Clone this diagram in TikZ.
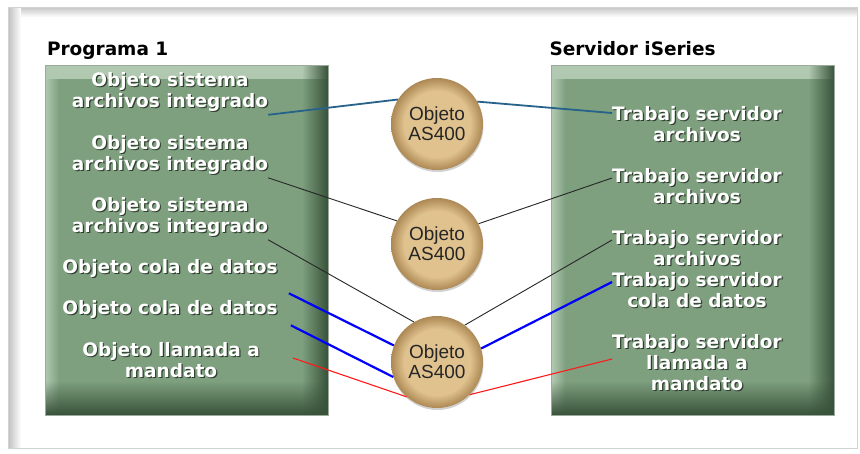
\documentclass[tikz,border=0pt]{standalone}
\usepackage{fontspec}
\setmainfont{Liberation Sans}
\newfontfamily\boldface{DejaVu Sans}
\usetikzlibrary{shadows,fadings}
\definecolor{boxgreen}{RGB}{126,160,127}
\definecolor{boxdark}{RGB}{56,82,58}
\definecolor{boxlight}{RGB}{178,202,178}
\definecolor{disc}{RGB}{224,194,142}
\definecolor{discdark}{RGB}{172,136,84}
\definecolor{linkteal}{RGB}{38,98,138}
\definecolor{txtshadow}{RGB}{48,62,48}
\pgfdeclareradialshading{discshade}{\pgfpoint{0bp}{0bp}}{color(0bp)=(disc); color(18bp)=(disc); color(25bp)=(discdark); color(50bp)=(discdark)}
% white label text with a dark shadow under it
\newcommand\shtxt[1]{\leavevmode\rlap{\raisebox{-1.2pt}{\hspace{1.2pt}\textcolor{txtshadow}{\begin{tabular}{@{}c@{}}#1\end{tabular}}}}\begin{tabular}{@{}c@{}}#1\end{tabular}}
\tikzset{
  panel/.style={fill=boxgreen,draw=boxdark!50,line width=0.4pt,inner sep=0pt,
    minimum width=283pt,minimum height=350pt,
    path picture={
      \fill[boxlight,path fading=south] (path picture bounding box.north west) rectangle ([yshift=-14pt]path picture bounding box.north east);
      \fill[boxlight,path fading=east] (path picture bounding box.north west) rectangle ([xshift=14pt]path picture bounding box.south west);
      \fill[boxdark,path fading=west] ([xshift=-26pt]path picture bounding box.north east) rectangle (path picture bounding box.south east);
      \fill[boxdark,path fading=north] ([yshift=34pt]path picture bounding box.south west) rectangle (path picture bounding box.south east);
    }},
  grouptitle/.style={font=\boldface\bfseries\fontsize{18.5}{21}\selectfont,inner sep=0pt},
  objlabel/.style={text=white,inner sep=0pt,font=\boldface\bfseries\fontsize{18.5}{21}\selectfont},
  asnode/.style={circle,minimum size=92pt,inner sep=0pt,shade,shading=discshade,
    align=center,text=black!85,font=\fontsize{19}{20}\selectfont,
    drop shadow={shadow xshift=0.5pt,shadow yshift=-2pt,opacity=0.35}},
  tealedge/.style={draw=linkteal,line width=1.8pt},
  blackedge/.style={draw=black!85,line width=0.9pt},
  blueedge/.style={draw=blue,line width=2.2pt},
  rededge/.style={draw=red!90,line width=1.1pt}
}

\begin{document}
\begin{tikzpicture}[x=1pt,y=-1pt]

% Frame
\fill[white] (0,0) rectangle (860,453);
\useasboundingbox (0,0) rectangle (860,453);
\shade[top color=gray!45,bottom color=white] (8,7) rectangle (857,17);
\shade[left color=gray!50,right color=white] (8,7) rectangle (21,448);
\draw[gray!35,line width=1pt] (8,7) rectangle (857,448);

% Program side and server side
\node[panel] (prog) at (186.5,240) {};
\node[panel] (serv) at (693,240) {};
\node[grouptitle,anchor=base west] (progtitle) at ([xshift=2pt,yshift=9pt]prog.north west) {Programa 1};
\node[grouptitle,anchor=base west] (servtitle) at ([xshift=-2pt,yshift=9pt]serv.north west) {Servidor iSeries};

% Objects of the program
\node[objlabel] (o1) at (170,93) {\shtxt{Objeto sistema\\archivos integrado}};
\node[objlabel] (o2) at (170,156) {\shtxt{Objeto sistema\\archivos integrado}};
\node[objlabel] (o3) at (170,218) {\shtxt{Objeto sistema\\archivos integrado}};
\node[objlabel] (o4) at (170,270) {\shtxt{Objeto cola de datos}};
\node[objlabel] (o5) at (170,311) {\shtxt{Objeto cola de datos}};
\node[objlabel] (o6) at (171,363) {\shtxt{Objeto llamada a\\mandato}};

% Server jobs
\node[objlabel] (t1) at (697,127) {\shtxt{Trabajo servidor\\archivos}};
\node[objlabel] (t2) at (697,189) {\shtxt{Trabajo servidor\\archivos}};
\node[objlabel] (t3) at (697,251) {\shtxt{Trabajo servidor\\archivos}};
\node[objlabel] (t4) at (697,293) {\shtxt{Trabajo servidor\\cola de datos}};
\node[objlabel] (t5) at (697,366) {\shtxt{Trabajo servidor\\llamada a\\mandato}};

% AS400 objects in the middle
\node[asnode] (c1) at (437,124) {Objeto\\AS400};
\node[asnode] (c2) at (437,244) {Objeto\\AS400};
\node[asnode] (c3) at (437,362) {Objeto\\AS400};

% Connections, program side
\draw[tealedge] (o1.south east) -- (c1.148);
\draw[blackedge] (o2.south east) -- (c2.150);
\draw[blackedge] (o3.south east) -- (c3.120);
\draw[blueedge] ([xshift=11pt,yshift=-12pt]o4.south east) -- (c3.159);
\draw[blueedge] ([xshift=13pt,yshift=-3pt]o5.south east) -- (c3.199);
\draw[rededge] ([xshift=33pt,yshift=5pt]o6.east) -- (c3.229);

% Connections, server side
\draw[tealedge] (c1.29) -- ([yshift=14pt]t1.west);
\draw[blackedge] (c2.26) -- ([yshift=11pt]t2.west);
\draw[blackedge] (c3.53) -- ([yshift=11pt]t3.west);
\draw[blueedge] (c3.17) -- ([yshift=11pt]t4.west);
\draw[rededge] (c3.315) -- ([yshift=7pt]t5.west);

\end{tikzpicture}
\end{document}
